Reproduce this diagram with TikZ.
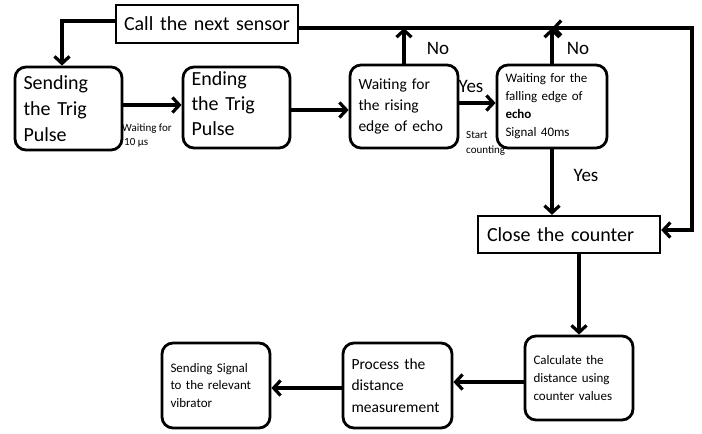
\documentclass[tikz,border=0pt]{standalone}
\usepackage{fontspec}
\setmainfont{Carlito}
\usetikzlibrary{arrows.meta}
\begin{document}
\begin{tikzpicture}[x=1pt,y=-1pt,
  rbox/.style={draw,line width=2.8pt,rounded corners=11pt,align=left,inner xsep=8.5pt,inner ysep=0pt},
  sbox/.style={draw,line width=2.3pt,align=left,inner ysep=0pt},
  conn/.style={line width=3.2pt,-{Straight Barb[length=7pt,width=15pt]}},
  lbl/.style={inner sep=0pt,align=left}]
\useasboundingbox (0,0) rectangle (702,434);
% boxes
\node[sbox,text width=166pt,inner xsep=8pt,minimum height=38pt,font=\fontsize{20}{24}\selectfont] (call) at (207,24) {Call the next sensor};
\node[rbox,text width=90pt,minimum height=83pt,font=\fontsize{20}{26}\selectfont] (s1) at (68.5,108.5) {Sending\\the Trig\\Pulse};
\node[rbox,text width=90pt,minimum height=81pt,font=\fontsize{20}{25}\selectfont] (s2) at (236.5,107.5) {Ending\\the Trig\\Pulse\\[-17pt]\mbox{}};
\node[rbox,text width=91pt,minimum height=83pt,font=\fontsize{15.5}{21}\selectfont] (s3) at (404,106.5) {Waiting for\\the rising\\edge of echo};
\node[rbox,text width=93pt,minimum height=83pt,font=\fontsize{13}{18}\selectfont] (s4) at (552,106.5) {Waiting for the\\falling edge of\\\textbf{echo}\\Signal 40ms};
\node[sbox,text width=164pt,inner xsep=9pt,minimum height=37pt,font=\fontsize{20}{24}\selectfont] (close) at (569,234.5) {Close the counter};
\node[rbox,text width=91pt,minimum height=84pt,font=\fontsize{13}{18}\selectfont] (calc) at (579,378) {Calculate the\\distance using\\counter values};
\node[rbox,text width=92pt,minimum height=85pt,font=\fontsize{15.5}{21.5}\selectfont] (proc) at (397.5,385.5) {Process the\\distance\\measurement};
\node[rbox,text width=91pt,minimum height=85pt,font=\fontsize{13}{17.5}\selectfont] (sig) at (216,385.5) {Sending Signal\\to the relevant\\vibrator};
% labels
\node[lbl,anchor=north west,font=\fontsize{11}{14}\selectfont] (w10) at (122,124) {Waiting for\\\hspace{2pt}10 µs};
\node[lbl,anchor=north west,font=\fontsize{11}{15}\selectfont] (sc) at (466,131) {Start\\counting};
\node[lbl,font=\fontsize{19}{22}\selectfont] (no1) at (438,48) {No};
\node[lbl,font=\fontsize{19}{22}\selectfont] (no2) at (578,48) {No};
\node[lbl,font=\fontsize{19}{22}\selectfont] (yes1) at (471,86) {Yes};
\node[lbl,font=\fontsize{19}{22}\selectfont] (yes2) at (586,175) {Yes};
% coordinates
\coordinate (tr) at (692,28);
% connectors
\draw[conn] ([yshift=3pt]call.west) -| ([xshift=-6.5pt]s1.north);
\draw[conn] ([yshift=3.5pt]s1.east) -- ([yshift=3.5pt]s1.east -| s2.west);
\draw[conn] ([yshift=-2.5pt]s2.east) -- ([yshift=-2.5pt]s2.east -| s3.west);
\draw[conn] ([yshift=3.5pt]s3.east) -- ([yshift=3.5pt]s3.east -| s4.west);
\draw[conn] (s3.north) -- (s3.north |- tr);
\draw[conn] (s4.north) -- (s4.north |- tr);
\draw[conn] ([yshift=-4pt]call.east) -- (tr) |- ([yshift=4.5pt]close.east);
\draw[conn] ([xshift=25pt]s4.north |- tr) -- (s4.north |- tr);
\draw[conn] (s4.south) -- (s4.south |- close.north);
\draw[conn] (close.south -| calc.north) -- (calc.north);
\draw[conn] ([yshift=-4pt]calc.west) -- ([yshift=-4pt]calc.west -| proc.east);
\draw[conn] ([yshift=-2.5pt]proc.west) -- ([yshift=-2.5pt]proc.west -| sig.east);
\end{tikzpicture}
\end{document}
